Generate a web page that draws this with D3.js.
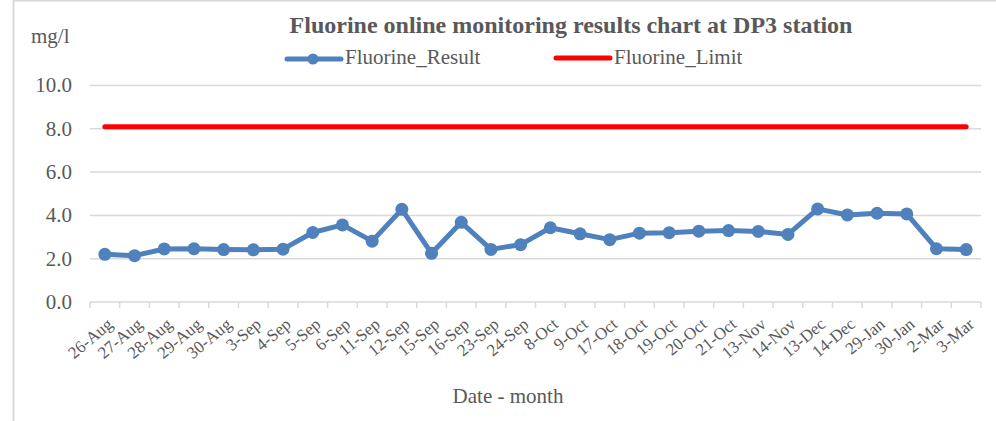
<!DOCTYPE html>
<html>
<head>
<meta charset="utf-8">
<script src="https://cdn.jsdelivr.net/npm/d3@7"></script>
<style>
  body { margin: 0; background: #fff; }
  svg { display: block; font-family: "Liberation Serif", "Times New Roman", serif; }
</style>
</head>
<body>
<div id="chart"></div>
<script>
const dates = ['26-Aug', '27-Aug', '28-Aug', '29-Aug', '30-Aug', '3-Sep', '4-Sep', '5-Sep', '6-Sep',
    '11-Sep', '12-Sep', '15-Sep', '16-Sep', '23-Sep', '24-Sep', '8-Oct', '9-Oct', '17-Oct', '18-Oct',
    '19-Oct', '20-Oct', '21-Oct', '13-Nov', '14-Nov', '13-Dec', '14-Dec', '29-Jan', '30-Jan', '2-Mar', '3-Mar'];
const fluorineResult = [2.20, 2.14, 2.45, 2.46, 2.42, 2.41, 2.44, 3.21, 3.56, 2.81, 4.28, 2.25, 3.68, 2.43,
    2.65, 3.43, 3.15, 2.88, 3.18, 3.20, 3.27, 3.30, 3.26, 3.12, 4.30, 4.02, 4.10, 4.07, 2.46, 2.42];
const fluorineLimit = dates.map(() => 8.1);
const yTicks = [0, 2, 4, 6, 8, 10];

const width = 996, height = 421;
const margin = { left: 90, right: 15, top: 85.5, bottom: 119 };
const textColor = '#595959';
const gridColor = '#d9d9d9';

const svg = d3.select('#chart')
    .append('svg')
    .attr('width', width)
    .attr('height', height);

// chart frame
svg.append('rect')
    .attr('x', 13.5).attr('y', 0.5)
    .attr('width', 1000).attr('height', 440)
    .attr('fill', '#fff')
    .attr('stroke', gridColor)
    .attr('stroke-width', 2);

const x = d3.scaleBand()
    .domain(dates)
    .range([margin.left, width - margin.right]);

const y = d3.scaleLinear()
    .domain([0, 10])
    .range([height - margin.bottom, margin.top]);

// gridlines
svg.append('g')
    .selectAll('line')
    .data(yTicks.filter(d => d > 0))
    .enter()
    .append('line')
    .attr('x1', margin.left)
    .attr('x2', width - margin.right)
    .attr('y1', d => y(d))
    .attr('y2', d => y(d))
    .attr('stroke', gridColor)
    .attr('stroke-width', 1.5);

// y tick labels
svg.append('g')
    .selectAll('text')
    .data(yTicks)
    .enter()
    .append('text')
    .attr('x', 72)
    .attr('y', d => y(d))
    .attr('dy', '0.33em')
    .attr('text-anchor', 'end')
    .attr('fill', textColor)
    .style('font-size', '21px')
    .text(d => d.toFixed(1));

// x axis
const xAxis = svg.append('g')
    .attr('transform', `translate(0,${y(0)})`);
xAxis.append('line')
    .attr('x1', margin.left).attr('x2', width - margin.right)
    .attr('stroke', gridColor).attr('stroke-width', 1.5);
const bounds = dates.map(d => x(d)).concat([x(dates[dates.length - 1]) + x.bandwidth()]);
xAxis.selectAll('line.tick')
    .data(bounds)
    .enter()
    .append('line')
    .attr('class', 'tick')
    .attr('x1', d => d).attr('x2', d => d)
    .attr('y1', 0).attr('y2', 6)
    .attr('stroke', gridColor).attr('stroke-width', 1.5);

xAxis.selectAll('text')
    .data(dates)
    .enter()
    .append('text')
    .attr('transform', d => `translate(${x(d) + x.bandwidth() / 2 + 9},${24}) rotate(-40)`)
    .attr('text-anchor', 'end')
    .attr('fill', textColor)
    .style('font-size', '17px')
    .text(d => d);

// limit line
const line = d3.line()
    .x((d, i) => x(dates[i]) + x.bandwidth() / 2)
    .y(d => y(d));

svg.append('path')
    .datum(fluorineLimit)
    .attr('d', line)
    .attr('fill', 'none')
    .attr('stroke', '#ff0000')
    .attr('stroke-width', 5)
    .attr('stroke-linecap', 'round');

// result line
svg.append('path')
    .datum(fluorineResult)
    .attr('d', line)
    .attr('fill', 'none')
    .attr('stroke', '#4f81bd')
    .attr('stroke-width', 5)
    .attr('stroke-linejoin', 'round');

svg.append('g')
    .selectAll('circle')
    .data(fluorineResult)
    .enter()
    .append('circle')
    .attr('cx', (d, i) => x(dates[i]) + x.bandwidth() / 2)
    .attr('cy', d => y(d))
    .attr('r', 6.5)
    .attr('fill', '#4f81bd');

// title
svg.append('text')
    .attr('x', 571).attr('y', 33)
    .attr('text-anchor', 'middle')
    .attr('fill', textColor)
    .style('font-size', '24px')
    .style('font-weight', 'bold')
    .text('Fluorine online monitoring results chart at DP3 station');

// unit label
svg.append('text')
    .attr('x', 31).attr('y', 43)
    .attr('fill', textColor)
    .style('font-size', '21px')
    .text('mg/l');

// axis title
svg.append('text')
    .attr('x', 508).attr('y', 403)
    .attr('text-anchor', 'middle')
    .attr('fill', textColor)
    .style('font-size', '21px')
    .text('Date - month');

// legend
const legend = svg.append('g');
legend.append('line')
    .attr('x1', 287).attr('x2', 341).attr('y1', 59).attr('y2', 59)
    .attr('stroke', '#4f81bd').attr('stroke-width', 5).attr('stroke-linecap', 'round');
legend.append('circle')
    .attr('cx', 313).attr('cy', 59).attr('r', 5.5).attr('fill', '#4f81bd');
legend.append('text')
    .attr('x', 345).attr('y', 64)
    .attr('fill', textColor).style('font-size', '21px')
    .text('Fluorine_Result');
legend.append('line')
    .attr('x1', 556).attr('x2', 610).attr('y1', 58).attr('y2', 58)
    .attr('stroke', '#ff0000').attr('stroke-width', 5).attr('stroke-linecap', 'round');
legend.append('text')
    .attr('x', 614).attr('y', 64)
    .attr('fill', textColor).style('font-size', '21px')
    .text('Fluorine_Limit');
</script>
</body>
</html>
